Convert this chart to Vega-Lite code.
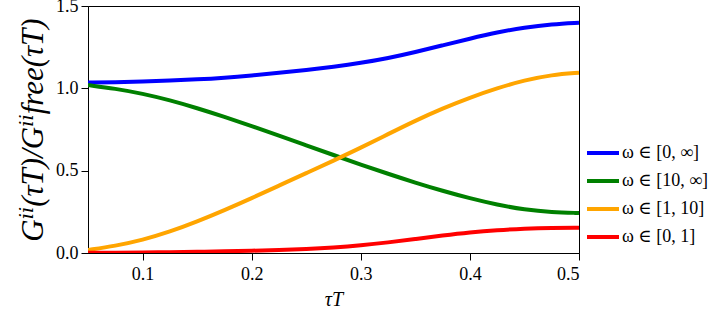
{
  "$schema": "https://vega.github.io/schema/vega-lite/v6.json",
  "autosize": {"type": "none"},
  "padding": {"left": 88, "top": 6, "right": 134, "bottom": 58},
  "width": 491,
  "height": 247,
  "background": "white",
  "config": {
    "view": {"stroke": "black", "strokeWidth": 1},
    "font": "Liberation Serif, DejaVu Serif, serif",
    "axis": {
      "grid": false,
      "domainColor": "black",
      "tickColor": "black",
      "tickSize": 7,
      "labelFont": "Liberation Serif, DejaVu Serif, serif",
      "labelFontSize": 18,
      "labelColor": "black",
      "titleFont": "Liberation Serif, DejaVu Serif, serif",
      "titleColor": "black",
      "titleFontWeight": "normal",
      "titleFontStyle": "italic"
    }
  },
  "data": {
    "values": [
      {"tT": 0.05, "band": "ω ∈ [0, ∞]", "G": 1.035},
      {"tT": 0.075, "band": "ω ∈ [0, ∞]", "G": 1.037},
      {"tT": 0.1, "band": "ω ∈ [0, ∞]", "G": 1.041},
      {"tT": 0.125, "band": "ω ∈ [0, ∞]", "G": 1.047},
      {"tT": 0.15, "band": "ω ∈ [0, ∞]", "G": 1.054},
      {"tT": 0.175, "band": "ω ∈ [0, ∞]", "G": 1.064},
      {"tT": 0.2, "band": "ω ∈ [0, ∞]", "G": 1.078},
      {"tT": 0.225, "band": "ω ∈ [0, ∞]", "G": 1.094},
      {"tT": 0.25, "band": "ω ∈ [0, ∞]", "G": 1.111},
      {"tT": 0.275, "band": "ω ∈ [0, ∞]", "G": 1.131},
      {"tT": 0.3, "band": "ω ∈ [0, ∞]", "G": 1.154},
      {"tT": 0.325, "band": "ω ∈ [0, ∞]", "G": 1.183},
      {"tT": 0.35, "band": "ω ∈ [0, ∞]", "G": 1.220},
      {"tT": 0.375, "band": "ω ∈ [0, ∞]", "G": 1.261},
      {"tT": 0.4, "band": "ω ∈ [0, ∞]", "G": 1.302},
      {"tT": 0.425, "band": "ω ∈ [0, ∞]", "G": 1.340},
      {"tT": 0.45, "band": "ω ∈ [0, ∞]", "G": 1.370},
      {"tT": 0.475, "band": "ω ∈ [0, ∞]", "G": 1.390},
      {"tT": 0.5, "band": "ω ∈ [0, ∞]", "G": 1.399},

      {"tT": 0.05, "band": "ω ∈ [10, ∞]", "G": 1.020},
      {"tT": 0.075, "band": "ω ∈ [10, ∞]", "G": 0.998},
      {"tT": 0.1, "band": "ω ∈ [10, ∞]", "G": 0.968},
      {"tT": 0.125, "band": "ω ∈ [10, ∞]", "G": 0.928},
      {"tT": 0.15, "band": "ω ∈ [10, ∞]", "G": 0.880},
      {"tT": 0.175, "band": "ω ∈ [10, ∞]", "G": 0.827},
      {"tT": 0.2, "band": "ω ∈ [10, ∞]", "G": 0.771},
      {"tT": 0.225, "band": "ω ∈ [10, ∞]", "G": 0.713},
      {"tT": 0.25, "band": "ω ∈ [10, ∞]", "G": 0.654},
      {"tT": 0.275, "band": "ω ∈ [10, ∞]", "G": 0.595},
      {"tT": 0.3, "band": "ω ∈ [10, ∞]", "G": 0.537},
      {"tT": 0.325, "band": "ω ∈ [10, ∞]", "G": 0.481},
      {"tT": 0.35, "band": "ω ∈ [10, ∞]", "G": 0.427},
      {"tT": 0.375, "band": "ω ∈ [10, ∞]", "G": 0.377},
      {"tT": 0.4, "band": "ω ∈ [10, ∞]", "G": 0.332},
      {"tT": 0.425, "band": "ω ∈ [10, ∞]", "G": 0.293},
      {"tT": 0.45, "band": "ω ∈ [10, ∞]", "G": 0.263},
      {"tT": 0.475, "band": "ω ∈ [10, ∞]", "G": 0.247},
      {"tT": 0.5, "band": "ω ∈ [10, ∞]", "G": 0.243},

      {"tT": 0.05, "band": "ω ∈ [1, 10]", "G": 0.018},
      {"tT": 0.075, "band": "ω ∈ [1, 10]", "G": 0.043},
      {"tT": 0.1, "band": "ω ∈ [1, 10]", "G": 0.079},
      {"tT": 0.125, "band": "ω ∈ [1, 10]", "G": 0.129},
      {"tT": 0.15, "band": "ω ∈ [1, 10]", "G": 0.191},
      {"tT": 0.175, "band": "ω ∈ [1, 10]", "G": 0.260},
      {"tT": 0.2, "band": "ω ∈ [1, 10]", "G": 0.333},
      {"tT": 0.225, "band": "ω ∈ [1, 10]", "G": 0.409},
      {"tT": 0.25, "band": "ω ∈ [1, 10]", "G": 0.485},
      {"tT": 0.275, "band": "ω ∈ [1, 10]", "G": 0.561},
      {"tT": 0.3, "band": "ω ∈ [1, 10]", "G": 0.639},
      {"tT": 0.325, "band": "ω ∈ [1, 10]", "G": 0.722},
      {"tT": 0.35, "band": "ω ∈ [1, 10]", "G": 0.804},
      {"tT": 0.375, "band": "ω ∈ [1, 10]", "G": 0.878},
      {"tT": 0.4, "band": "ω ∈ [1, 10]", "G": 0.944},
      {"tT": 0.425, "band": "ω ∈ [1, 10]", "G": 1.001},
      {"tT": 0.45, "band": "ω ∈ [1, 10]", "G": 1.049},
      {"tT": 0.475, "band": "ω ∈ [1, 10]", "G": 1.082},
      {"tT": 0.5, "band": "ω ∈ [1, 10]", "G": 1.095},

      {"tT": 0.05, "band": "ω ∈ [0, 1]", "G": 0.001},
      {"tT": 0.075, "band": "ω ∈ [0, 1]", "G": 0.002},
      {"tT": 0.1, "band": "ω ∈ [0, 1]", "G": 0.003},
      {"tT": 0.125, "band": "ω ∈ [0, 1]", "G": 0.005},
      {"tT": 0.15, "band": "ω ∈ [0, 1]", "G": 0.007},
      {"tT": 0.175, "band": "ω ∈ [0, 1]", "G": 0.010},
      {"tT": 0.2, "band": "ω ∈ [0, 1]", "G": 0.014},
      {"tT": 0.225, "band": "ω ∈ [0, 1]", "G": 0.018},
      {"tT": 0.25, "band": "ω ∈ [0, 1]", "G": 0.024},
      {"tT": 0.275, "band": "ω ∈ [0, 1]", "G": 0.033},
      {"tT": 0.3, "band": "ω ∈ [0, 1]", "G": 0.046},
      {"tT": 0.325, "band": "ω ∈ [0, 1]", "G": 0.064},
      {"tT": 0.35, "band": "ω ∈ [0, 1]", "G": 0.085},
      {"tT": 0.375, "band": "ω ∈ [0, 1]", "G": 0.106},
      {"tT": 0.4, "band": "ω ∈ [0, 1]", "G": 0.125},
      {"tT": 0.425, "band": "ω ∈ [0, 1]", "G": 0.139},
      {"tT": 0.45, "band": "ω ∈ [0, 1]", "G": 0.148},
      {"tT": 0.475, "band": "ω ∈ [0, 1]", "G": 0.153},
      {"tT": 0.5, "band": "ω ∈ [0, 1]", "G": 0.154}
    ]
  },
  "mark": {"type": "line", "strokeWidth": 4, "interpolate": "basis", "clip": true},
  "encoding": {
    "x": {
      "field": "tT",
      "type": "quantitative",
      "scale": {"domain": [0.05, 0.5], "nice": false, "zero": false},
      "axis": {
        "values": [0.1, 0.2, 0.3, 0.4, 0.5],
        "format": ".1f",
        "labelPadding": 5,
        "title": "τT",
        "titleFontSize": 20,
        "titlePadding": 6
      }
    },
    "y": {
      "field": "G",
      "type": "quantitative",
      "scale": {"domain": [0, 1.5], "nice": false},
      "axis": {
        "values": [0, 0.5, 1, 1.5],
        "format": ".1f",
        "labelPadding": 3,
        "title": "Gⁱⁱ(τT)/Gⁱⁱfree(τT)",
        "titleFontSize": 31,
        "titlePadding": 6
      }
    },
    "color": {
      "field": "band",
      "type": "nominal",
      "sort": ["ω ∈ [0, ∞]", "ω ∈ [10, ∞]", "ω ∈ [1, 10]", "ω ∈ [0, 1]"],
      "scale": {
        "domain": ["ω ∈ [0, ∞]", "ω ∈ [10, ∞]", "ω ∈ [1, 10]", "ω ∈ [0, 1]"],
        "range": ["#0000ff", "#008000", "#ffa500", "#ff0000"]
      },
      "legend": {
        "title": null,
        "orient": "none",
        "legendX": 503,
        "legendY": 135,
        "padding": 0,
        "symbolType": "M-1.6,0H1.6",
        "symbolSize": 400,
        "symbolStrokeWidth": 4,
        "rowPadding": 7,
        "labelOffset": 7,
        "labelFont": "Liberation Serif, DejaVu Serif, serif",
        "labelFontSize": 18,
        "labelColor": "black",
        "labelLimit": 200
      }
    }
  }
}
